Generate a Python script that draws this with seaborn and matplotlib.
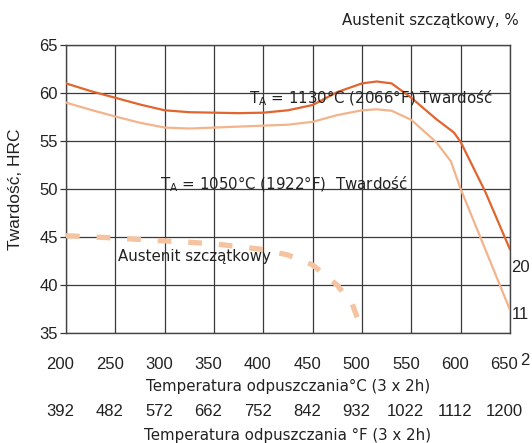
import matplotlib
matplotlib.use("Agg")
import matplotlib.pyplot as plt
import matplotlib.transforms as mtransforms
import pandas as pd
import seaborn as sns

# ---- data -------------------------------------------------------------
temp_c_ticks = [200, 250, 300, 350, 400, 450, 500, 550, 600, 650]
temp_f_labels = ["392", "482", "572", "662", "752", "842", "932", "1022", "1112", "1200"]
hrc_ticks = [35, 40, 45, 50, 55, 60, 65]
austenite_ticks = [11, 20]
austenite_extra_tick = 2

t_1130 = [200, 225, 250, 275, 300, 325, 350, 375, 400, 425, 450, 475, 500, 515, 530, 550, 575, 593, 600, 625, 650]
hrc_1130 = [61.0, 60.2, 59.5, 58.8, 58.2, 58.0, 57.95, 57.9, 57.95, 58.2, 58.75, 60.1, 61.0, 61.2, 61.0, 59.5, 57.3, 55.9, 54.9, 49.7, 43.7]

t_1050 = [200, 225, 250, 275, 300, 325, 350, 375, 400, 425, 450, 475, 500, 515, 530, 550, 575, 590, 600, 625, 650]
hrc_1050 = [59.0, 58.25, 57.55, 56.9, 56.4, 56.3, 56.4, 56.5, 56.6, 56.7, 57.0, 57.7, 58.2, 58.3, 58.15, 57.2, 54.9, 52.9, 50.0, 43.7, 37.4]

t_aust = [200, 250, 300, 350, 400, 425, 450, 475, 490, 500, 502]
pct_aust = [25.8, 25.35, 24.8, 24.25, 23.15, 22.1, 20.2, 16.3, 12.8, 7.6, 6.5]

# ---- style ------------------------------------------------------------
sns.set_style("white")
plt.rcParams["font.family"] = ["DejaVu Sans"]
TXT = "#222222"
DARK = "#E0652F"
LIGHT = "#F3B48C"
DASH = "#F5C3A0"
GRID = "#3a3a3a"

fig = plt.figure(figsize=(5.32, 4.43), dpi=100)
ax = fig.add_axes([66 / 532, 1 - 333 / 443, (510 - 66) / 532, (333 - 45) / 443])

df_1130 = pd.DataFrame({"T": t_1130, "HRC": hrc_1130})
df_1050 = pd.DataFrame({"T": t_1050, "HRC": hrc_1050})
df_aust = pd.DataFrame({"T": t_aust, "pct": pct_aust})

sns.lineplot(data=df_1050, x="T", y="HRC", ax=ax, color=LIGHT, lw=1.6, zorder=3)
sns.lineplot(data=df_1130, x="T", y="HRC", ax=ax, color=DARK, lw=1.6, zorder=4)

ax.set_xlim(200, 650)
ax.set_ylim(35, 65)
ax.set_xticks(temp_c_ticks)
ax.set_yticks(hrc_ticks)
ax.grid(True, color=GRID, lw=0.9)
ax.set_axisbelow(True)
for s in ax.spines.values():
    s.set_color("#444444")
    s.set_linewidth(1.0)
ax.tick_params(axis="x", length=0, pad=17, colors=TXT, labelsize=12)
ax.tick_params(axis="y", length=4, width=0.9, color=GRID, pad=2, colors=TXT, labelsize=12)
for lbl in ax.get_xticklabels() + ax.get_yticklabels():
    lbl.set_fontfamily("Liberation Sans")
    lbl.set_color(TXT)
ax.set_xlabel("Temperatura odpuszczania°C (3 x 2h)", fontsize=10.8, color=TXT, labelpad=5)
ax.set_ylabel("Twardość, HRC", fontfamily="Liberation Sans", fontsize=12.5, color=TXT, labelpad=12)

shift = mtransforms.ScaledTranslation(-4 / 72, 0, fig.dpi_scale_trans)
for tick in ax.xaxis.get_major_ticks():
    tick.label1.set_transform(tick.label1.get_transform() + shift)

# secondary Fahrenheit scale
sec = ax.secondary_xaxis(-0.233)
sec.set_xticks(temp_c_ticks, labels=temp_f_labels)
sec.tick_params(length=0, pad=3, labelsize=12, colors=TXT)
for lbl in sec.get_xticklabels():
    lbl.set_fontfamily("Liberation Sans")
for tick in sec.xaxis.get_major_ticks():
    tick.label1.set_transform(tick.label1.get_transform() + shift)
sec.spines["bottom"].set_visible(False)
sec.set_xlabel("Temperatura odpuszczania °F (3 x 2h)", fontsize=10.8, color=TXT, labelpad=6)

# retained austenite (right scale)
ax2 = ax.twinx()
sns.lineplot(data=df_aust, x="T", y="pct", ax=ax2, color=DASH, lw=3.8, zorder=3)
ax2.lines[-1].set_dashes([2.6, 3.2])
ax2.lines[-1].set_dash_capstyle("butt")
ax2.set_ylim(7.17, 62.3)
ax2.set_yticks(austenite_ticks)
ax2.set_ylabel("")
ax2.tick_params(axis="y", length=0, pad=1, labelsize=12, colors=TXT)
for lbl in ax2.get_yticklabels():
    lbl.set_fontfamily("Liberation Sans")
for s in ax2.spines.values():
    s.set_visible(False)
ax2.grid(False)
tr = mtransforms.blended_transform_factory(ax2.transAxes, ax2.transData)
ax2.text(1.022, austenite_extra_tick, str(austenite_extra_tick), transform=tr, ha="left",
         va="center", clip_on=False, fontfamily="Liberation Sans", fontsize=12, color=TXT)

# annotations
ax.text(385, 59.5, "T$_\\mathregular{A}$ = 1130°C (2066°F) Twardość", fontsize=10.8,
        color=TXT, va="center", ha="left", zorder=5)
ax.text(295, 50.45, "T$_\\mathregular{A}$ = 1050°C (1922°F)  Twardość", fontsize=10.8,
        color=TXT, va="center", ha="left", zorder=5)
ax.text(253, 43.0, "Austenit szczątkowy", fontsize=10.8, color=TXT, va="center", ha="left", zorder=5)
fig.text(519 / 532, 1 - 21 / 443, "Austenit szczątkowy, %", fontsize=10.8, color=TXT,
         ha="right", va="center")

fig.savefig("out.png", dpi=100)
